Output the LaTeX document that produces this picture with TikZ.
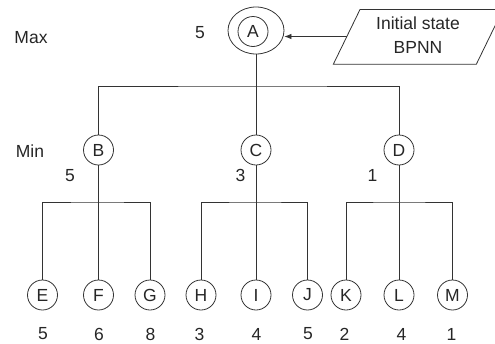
\documentclass[tikz,border=0pt]{standalone}
\usepackage{fontspec}
\setmainfont{Liberation Sans}
\usetikzlibrary{arrows.meta,shapes.geometric}
\begin{document}
\begin{tikzpicture}[x=1pt,y=-1pt,
  every node/.style={font=\fontsize{17.5}{24}\selectfont, text=black!85},
  vtx/.style={draw=black!80, line width=0.8pt, circle, minimum size=30pt, inner sep=0pt},
  conn/.style={draw=black!80, line width=0.8pt},
  lbl/.style={inner sep=0pt}]
\useasboundingbox (0,0) rectangle (495,343);
\clip (0,0) rectangle (495,343);
% root
\node[draw=black!80,line width=0.8pt,ellipse,minimum width=56pt,minimum height=47pt,inner sep=0pt] (A) at (256,30.5) {};
\node[vtx] (Ain) at (253,31.5) {A};
% level 1
\node[vtx] (B) at (98.5,150) {B};
\node[vtx] (C) at (256,150) {C};
\node[vtx] (D) at (399,150) {D};
% leaves
\node[vtx] (E) at (42.5,295) {E};
\node[vtx] (F) at (98.5,295) {F};
\node[vtx] (G) at (150,295) {G};
\node[vtx] (H) at (201,295) {H};
\node[vtx] (I) at (256,295) {I};
\node[vtx] (J) at (307.5,295) {J};
\node[vtx] (K) at (346,295) {K};
\node[vtx] (L) at (399,295) {L};
\node[vtx] (M) at (452.5,295) {M};
% side labels
\node[lbl] (max) at (31,37.5) {Max};
\node[lbl] (min) at (30,150.7) {Min};
\node[lbl] (vA) at (200,33) {5};
\node[lbl] (vB) at (70,175.5) {5};
\node[lbl] (vC) at (240.5,175.5) {3};
\node[lbl] (vD) at (372.5,175.5) {1};
\node[lbl] (vE) at (43,334) {5};
\node[lbl] (vF) at (99,334) {6};
\node[lbl] (vG) at (150.5,334) {8};
\node[lbl] (vH) at (199.5,334) {3};
\node[lbl] (vI) at (256.5,334) {4};
\node[lbl] (vJ) at (308,334) {5};
\node[lbl] (vK) at (344.5,334) {2};
\node[lbl] (vL) at (401.5,334) {4};
\node[lbl] (vM) at (451.5,334) {1};
% connectors: top level
\coordinate (tA) at (256,86);
\draw[conn] (A.south) -- (tA);
\draw[conn] (B.north) |- (tA) -| (D.north);
\draw[conn] (tA) -- (C.north);
% connectors: second level
\coordinate (hB) at (98.5,202);
\coordinate (hC) at (256,202);
\coordinate (hD) at (399,202);
\draw[conn] (B.south) -- (hB);
\draw[conn] (E.north) |- (hB) -| (G.north);
\draw[conn] (hB) -- (F.north);
\draw[conn] (C.south) -- (hC);
\draw[conn] (H.north) |- (hC) -| (J.north);
\draw[conn] (hC) -- (I.north);
\draw[conn] (D.south) -- (hD);
\draw[conn] (K.north) |- (hD) -| (M.north);
\draw[conn] (hD) -- (L.north);
% initial state parallelogram
\coordinate (p1) at (333.3,64.3);
\coordinate (p2) at (360,9.5);
\coordinate (p3) at (503,9.5);
\coordinate (p4) at (476.3,64.3);
\draw[conn] (p1) -- (p2) -- (p3) -- (p4) -- cycle;
\node[lbl,align=center] (P) at (418,35) {Initial state\\BPNN};
\coordinate (pl) at (346.8,36.5);
\draw[conn,-{Latex[length=7pt,width=5.5pt]}] (pl) -- (A.east |- pl);
\end{tikzpicture}
\end{document}
